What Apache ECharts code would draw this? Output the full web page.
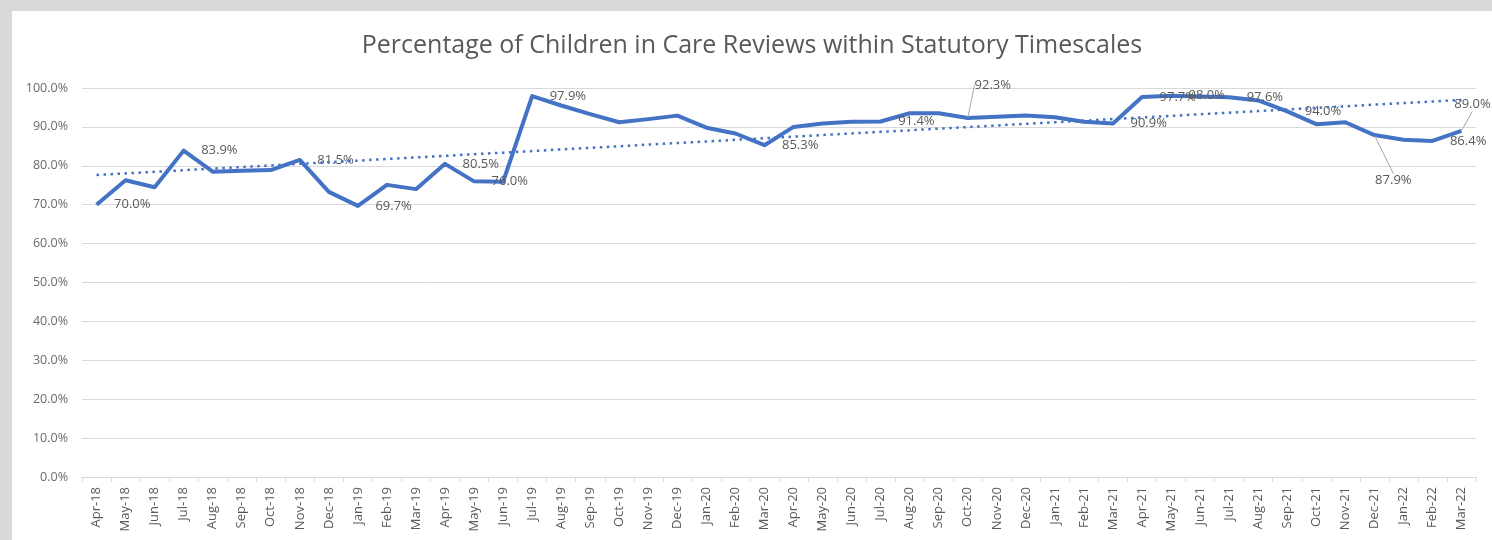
<!DOCTYPE html>
<html>
<head>
<meta charset="utf-8">
<title>Children in Care Reviews</title>
<script src="https://cdn.jsdelivr.net/npm/echarts@6/dist/echarts.min.js"></script>
<style>
  html, body { margin: 0; padding: 0; background: #d9d9d9; }
  #chartMain { position: absolute; left: 12px; top: 11px; width: 1480px; height: 529px; background: #fff; }
</style>
</head>
<body>
<div id="chartMain"></div>
<script>
// months Apr-18 .. Mar-22
var months = ['Apr-18', 'May-18', 'Jun-18', 'Jul-18', 'Aug-18', 'Sep-18', 'Oct-18', 'Nov-18', 'Dec-18', 'Jan-19', 'Feb-19', 'Mar-19',
  'Apr-19', 'May-19', 'Jun-19', 'Jul-19', 'Aug-19', 'Sep-19', 'Oct-19', 'Nov-19', 'Dec-19', 'Jan-20', 'Feb-20', 'Mar-20',
  'Apr-20', 'May-20', 'Jun-20', 'Jul-20', 'Aug-20', 'Sep-20', 'Oct-20', 'Nov-20', 'Dec-20', 'Jan-21', 'Feb-21', 'Mar-21',
  'Apr-21', 'May-21', 'Jun-21', 'Jul-21', 'Aug-21', 'Sep-21', 'Oct-21', 'Nov-21', 'Dec-21', 'Jan-22', 'Feb-22', 'Mar-22'];

// % of reviews within timescales
var reviewPct = [70.0, 76.3, 74.5, 83.9, 78.5, 78.7, 78.9, 81.5, 73.3, 69.7, 75.1, 74.0,
  80.5, 76.0, 75.9, 97.9, 95.5, 93.3, 91.2, 92.0, 92.9, 89.8, 88.3, 85.3,
  90.0, 90.9, 91.3, 91.4, 93.5, 93.5, 92.3, 92.6, 92.9, 92.5, 91.3, 90.9,
  97.7, 98.0, 97.8, 97.6, 96.8, 94.0, 90.7, 91.2, 87.9, 86.7, 86.4, 89.0];

// which points carry a data label
var labelledMonths = ['Apr-18', 'Jul-18', 'Nov-18', 'Jan-19', 'Apr-19', 'May-19', 'Jul-19', 'Mar-20', 'Jul-20', 'Oct-20',
  'Mar-21', 'Apr-21', 'May-21', 'Jul-21', 'Sep-21', 'Dec-21', 'Feb-22', 'Mar-22'];

var yTicks = [0, 10, 20, 30, 40, 50, 60, 70, 80, 90, 100];

// labels pulled away from the line with a leader line (dx, dy from the point)
var callouts = { 'Oct-20': [25, -33], 'Dec-21': [19, 45], 'Mar-22': [11, -26] };

var textGrey = '#595959';
var lineBlue = '#4472C4';

// linear trendline (least squares), like Excel's
function trend(vals) {
  var n = vals.length, sx = 0, sy = 0, sxy = 0, sxx = 0;
  for (var i = 0; i < n; i++) {
    sx += i; sy += vals[i]; sxy += i * vals[i]; sxx += i * i;
  }
  var b = (n * sxy - sx * sy) / (n * sxx - sx * sx);
  var a = (sy - b * sx) / n;
  var out = [];
  for (var j = 0; j < n; j++) out.push(+(a + b * j).toFixed(3));
  return out;
}

function buildPoints() {
  var arr = [];
  for (var i = 0; i < reviewPct.length; i++) {
    var m = months[i];
    var item = { value: reviewPct[i] };
    if (labelledMonths.indexOf(m) >= 0) {
      if (callouts[m]) {
        item.label = { show: true, position: 'inside' };
        item.labelLine = { show: true };
      } else {
        item.label = { show: true, position: 'right', distance: 17 };
      }
    }
    arr.push(item);
  }
  return arr;
}

var myChart = echarts.init(document.getElementById('chartMain'));
var option = {
  animation: false,
  title: {
    text: 'Percentage of Children in Care Reviews within Statutory Timescales',
    left: 'center',
    top: 17,
    textStyle: { fontFamily: 'Open Sans', fontSize: 25, fontWeight: 'normal', color: textGrey }
  },
  grid: { left: 70, right: 16, top: 77, bottom: 63 },
  xAxis: {
    type: 'category',
    data: months,
    boundaryGap: true,
    axisLine: { lineStyle: { color: '#d9d9d9', width: 1 } },
    axisTick: { show: true, length: 5, lineStyle: { color: '#d9d9d9' } },
    axisLabel: { rotate: 90, interval: 0, margin: 10, fontFamily: 'Open Sans', fontSize: 13, color: textGrey }
  },
  yAxis: {
    type: 'value',
    min: yTicks[0],
    max: yTicks[yTicks.length - 1],
    interval: yTicks[1] - yTicks[0],
    axisLine: { show: false },
    axisTick: { show: false },
    splitLine: { lineStyle: { color: '#d9d9d9', width: 1 } },
    axisLabel: {
      margin: 14,
      fontFamily: 'Open Sans', fontSize: 12.5, color: '#6b6b6b',
      formatter: function (v) { return v.toFixed(1) + '%'; }
    }
  },
  series: [
    {
      name: 'Trend',
      type: 'line',
      data: trend(reviewPct),
      symbol: 'none',
      silent: true,
      z: 3,
      lineStyle: { color: lineBlue, width: 2.5, type: [2.5, 4.5] }
    },
    {
      name: 'Reviews',
      type: 'line',
      data: buildPoints(),
      symbol: 'circle',
      symbolSize: 1,
      showSymbol: true,
      z: 2,
      itemStyle: { color: 'rgba(0,0,0,0)' },
      lineStyle: { color: lineBlue, width: 4, join: 'round' },
      label: {
        show: false,
        fontFamily: 'Open Sans',
        fontSize: 13,
        color: textGrey,
        formatter: function (p) { return p.value.toFixed(1) + '%'; }
      },
      labelLine: { show: false, smooth: false, lineStyle: { color: '#a6a6a6', width: 1 } },
      labelLayout: function (p) {
        var o = callouts[months[p.dataIndex]];
        return o ? { dx: o[0], dy: o[1] } : {};
      }
    }
  ]
};
myChart.setOption(option, true);
</script>
</body>
</html>
